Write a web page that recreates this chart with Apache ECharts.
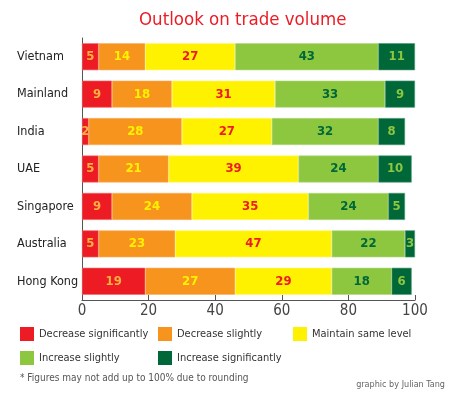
<!DOCTYPE html>
<html><head><meta charset="utf-8">
<script src="https://cdn.jsdelivr.net/npm/echarts@6/dist/echarts.min.js"></script>
<style>html,body{margin:0;padding:0;background:#fff}#c{width:450px;height:394px}</style>
</head><body><div id="c"></div>
<script>
const categories = ['Vietnam','Mainland','India','UAE','Singapore','Australia','Hong Kong'];
const seriesNames = ['Decrease significantly','Decrease slightly','Maintain same level','Increase slightly','Increase significantly'];
const decSig = [5, 9, 2, 5, 9, 5, 19];
const decSl  = [14, 18, 28, 21, 24, 23, 27];
const maint  = [27, 31, 27, 39, 35, 47, 29];
const incSl  = [43, 33, 32, 24, 24, 22, 18];
const incSig = [11, 9, 8, 10, 5, 3, 6];
const xTicks = [0, 20, 40, 60, 80, 100];

const values = [decSig, decSl, maint, incSl, incSig];
const colors = ['#ed1c24','#f7941d','#fff200','#8dc63f','#006838'];
const labelColors = ['#fbb040','#fff200','#ed1c24','#006838','#8dc63f'];
const borderColors = ['#f26b6f','#f9b26a','#fff87a','#b5da85','#4d9a73'];

const chart = echarts.init(document.getElementById('c'));
const series = values.map((v, i) => ({
  name: seriesNames[i], type: 'bar', stack: 'total', barWidth: 27,
  data: v,
  itemStyle: {color: colors[i], borderColor: borderColors[i], borderWidth: 0.6},
  label: {show: true, position: 'inside', color: labelColors[i], fontSize: 13, fontWeight: 'bold', fontFamily: 'DejaVu Sans Condensed'}
}));
const legendCommon = {orient: 'vertical', itemWidth: 14, itemHeight: 14, itemGap: 10, icon: 'rect', padding: 0,
  itemStyle: {borderWidth: 0},
  textStyle: {fontSize: 11, color: '#333', fontFamily: 'DejaVu Sans Condensed'}};
chart.setOption({
  animation: false,
  title: {text: 'Outlook on trade volume', left: 134, top: 6,
    textStyle: {color: '#ed1c24', fontSize: 18.5, fontWeight: 'normal', fontFamily: 'DejaVu Sans Condensed'}},
  grid: {left: 82, right: 35, top: 38, bottom: 94},
  xAxis: {type: 'value', min: 0, max: 100, interval: 20,
    axisLine: {show: true, lineStyle: {color: '#555'}},
    axisTick: {show: true, inside: true, length: 5, lineStyle: {color: '#555'}},
    splitLine: {show: false},
    axisLabel: {fontSize: 15, color: '#444', margin: 4, fontFamily: 'DejaVu Sans Condensed',
      formatter: v => xTicks.includes(v) ? String(v) : ''}},
  yAxis: {type: 'category', data: categories, inverse: true,
    axisLine: {show: true, lineStyle: {color: '#555'}},
    axisTick: {show: false},
    axisLabel: {align: 'left', margin: 65, fontSize: 12.5, color: '#222', fontFamily: 'DejaVu Sans Condensed'}},
  legend: [
    Object.assign({}, legendCommon, {left: 20, top: 327, data: [seriesNames[0], seriesNames[3]]}),
    Object.assign({}, legendCommon, {left: 158, top: 327, data: [seriesNames[1], seriesNames[4]]}),
    Object.assign({}, legendCommon, {left: 293, top: 327, data: [seriesNames[2]]})
  ],
  graphic: [
    {type: 'text', left: 20, top: 373, style: {text: '* Figures may not add up to 100% due to rounding', fontSize: 10, fill: '#555', fontFamily: 'DejaVu Sans Condensed'}},
    {type: 'text', right: 5, top: 380, style: {text: 'graphic by Julian Tang', fontSize: 9, fill: '#666', fontFamily: 'DejaVu Sans Condensed'}}
  ],
  series: series
});
</script></body></html>
